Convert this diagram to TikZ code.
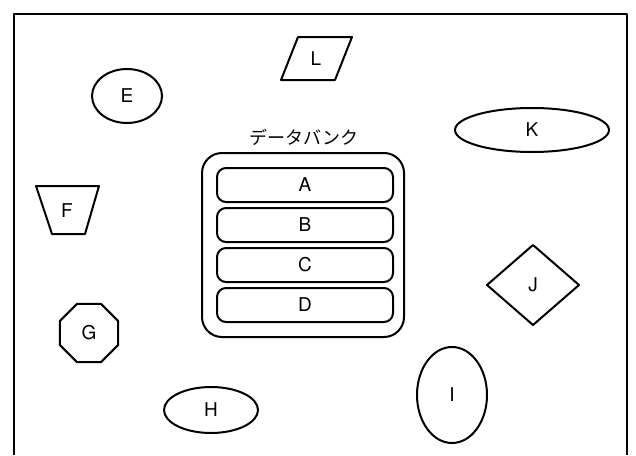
\documentclass[tikz,border=0pt]{standalone}
\usepackage{fontspec}
\setmainfont{TeX Gyre Heros}
\newfontfamily\jpfont{Noto Sans CJK JP}
\usetikzlibrary{shapes.geometric}
\tikzset{
  ln/.style={line width=2pt, line join=round},
  txt/.style={font=\fontsize{19}{19}\selectfont},
  lbl/.style={txt, inner sep=0pt},
  oval/.style={ln, draw, ellipse, inner sep=0pt, txt},
  bank/.style={ln, draw, rectangle, rounded corners=20pt, minimum width=202pt, minimum height=184pt},
  slot/.style={ln, draw, rectangle, rounded corners=9pt, minimum width=176pt, minimum height=34pt, inner sep=0pt, txt}
}
\begin{document}
\begin{tikzpicture}[x=1pt, y=-1pt]
\useasboundingbox (0,0) rectangle (636,455);
% open frame
\draw[ln] (14,455) -- (14,14) -- (627,14) -- (627,455);

% data bank with its four slots
\node[bank] (bank) at (303,245) {};
\node[font=\jpfont\fontsize{18}{18}\selectfont, inner sep=0pt] (title) at (304,137) {データバンク};
\node[slot] (A) at (305,185) {A};
\node[slot] (B) at (305,225) {B};
\node[slot] (C) at (305,265) {C};
\node[slot] (D) at (305,305) {D};

% ovals
\node[oval, minimum width=70pt, minimum height=54pt] (E) at (127,96) {E};
\node[oval, minimum width=154pt, minimum height=44pt] (K) at (532,130) {K};
\node[oval, minimum width=94pt, minimum height=46pt] (H) at (211,410) {H};
\node[oval, minimum width=70pt, minimum height=96pt] (I) at (452,395) {I};

% polygons
\node[lbl] (L) at (316,59) {L};
\draw[ln] (298,37) -- (352,37) -- (335,80) -- (281,80) -- cycle;

\node[lbl] (F) at (67,211) {F};
\draw[ln] (36,186) -- (99,186) -- (85,234) -- (52,234) -- cycle;

\node[regular polygon, regular polygon sides=8, minimum size=63pt, inner sep=0pt, ln, draw, txt] (G) at (89,333) {G};

\node[lbl] (J) at (533,285) {J};
\draw[ln] (487,285) -- (533,245) -- (579,285) -- (533,325) -- cycle;
\end{tikzpicture}
\end{document}
